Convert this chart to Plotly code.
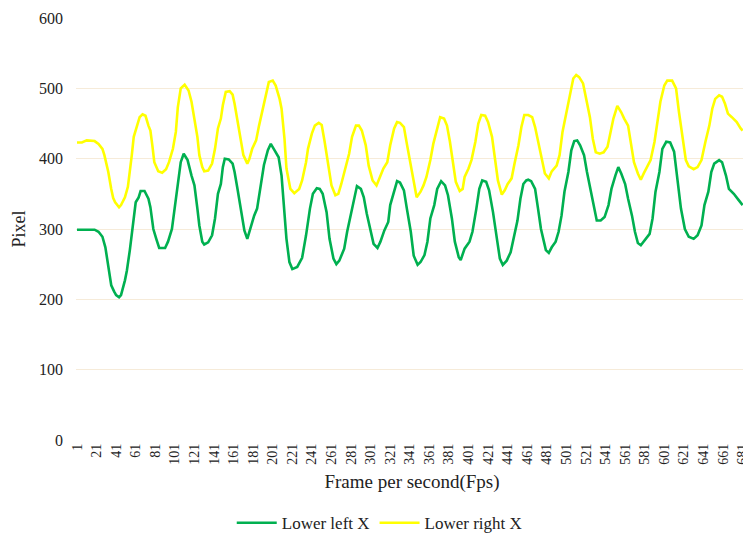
import plotly.graph_objects as go

# ---- data ----
frames_left = [1, 6, 11, 16, 19, 23, 27, 30, 33, 36, 39, 41, 44, 46, 50, 52, 55, 58, 61, 64, 66, 70, 74, 76, 79, 82, 85, 91, 94, 98,
               101, 104, 107, 110, 114, 118, 121, 124, 126, 129, 131, 135, 139, 142, 145, 148, 150, 152, 156, 160, 162, 165, 169, 172, 175, 178,
               182, 185, 188, 192, 196, 199, 202, 207, 210, 213, 215, 218, 221, 226, 231, 235, 239, 242, 246, 249, 252, 256, 259, 263, 266, 269,
               274, 277, 281, 284, 287, 291, 294, 297, 301, 304, 308, 311, 315, 319, 321, 325, 328, 331, 335, 338, 342, 345, 349, 352, 356, 359,
               362, 366, 369, 373, 377, 380, 384, 387, 391, 393, 397, 402, 405, 409, 412, 415, 419, 422, 426, 430, 433, 436, 440, 444, 447, 451,
               454, 457, 460, 462, 465, 469, 472, 475, 478, 480, 483, 486, 490, 493, 496, 499, 503, 506, 509, 512, 515, 519, 522, 526, 529, 532,
               536, 540, 544, 547, 551, 554, 557, 561, 564, 568, 571, 574, 577, 581, 586, 589, 592, 596, 599, 603, 607, 611, 614, 618, 622, 626,
               631, 635, 639, 642, 646, 649, 652, 657, 660, 664, 667, 672, 677, 681]
lower_left_x = [299, 299, 299, 299, 299, 296, 289, 274, 248, 220, 211, 206, 203, 206, 227, 241, 270, 305, 338, 345, 354, 354, 343, 331, 300, 286, 273, 273, 282, 300,
                334, 367, 395, 407, 398, 376, 362, 329, 305, 282, 278, 281, 291, 315, 350, 364, 388, 400, 399, 393, 381, 357, 324, 298, 286, 300,
                319, 329, 357, 391, 412, 421, 414, 402, 376, 329, 286, 253, 243, 246, 259, 291, 329, 350, 358, 357, 350, 324, 286, 258, 250, 255,
                272, 296, 324, 345, 361, 357, 345, 322, 296, 279, 273, 282, 298, 310, 334, 353, 368, 366, 355, 329, 296, 262, 249, 253, 263, 282,
                315, 334, 357, 368, 362, 348, 315, 282, 260, 256, 272, 282, 296, 329, 357, 369, 367, 355, 324, 286, 258, 249, 255, 267, 286, 312,
                343, 364, 369, 370, 368, 357, 329, 300, 282, 270, 266, 274, 282, 296, 319, 353, 381, 412, 425, 426, 419, 405, 381, 353, 329, 312,
                312, 317, 334, 357, 376, 388, 379, 364, 343, 319, 296, 280, 277, 284, 293, 315, 353, 381, 414, 424, 423, 410, 372, 329, 300, 289,
                286, 291, 305, 334, 353, 381, 393, 398, 395, 376, 357, 350, 341, 334]

frames_right = [1, 6, 11, 16, 19, 23, 27, 29, 33, 36, 38, 40, 44, 46, 50, 53, 55, 57, 59, 62, 65, 68, 71, 74, 76, 78, 80, 84, 88, 92, 95, 99,
                102, 104, 107, 111, 115, 118, 121, 124, 126, 129, 131, 135, 139, 142, 145, 148, 150, 153, 157, 160, 162, 165, 168, 171, 175, 177,
                180, 184, 187, 191, 194, 197, 201, 204, 208, 210, 213, 215, 219, 223, 228, 231, 235, 237, 241, 244, 248, 251, 254, 258, 261, 265,
                268, 271, 275, 279, 282, 286, 289, 292, 296, 299, 303, 307, 310, 314, 318, 321, 325, 328, 331, 335, 338, 342, 345, 348, 352, 355,
                358, 362, 365, 369, 372, 376, 379, 382, 385, 388, 392, 395, 397, 401, 404, 408, 411, 414, 418, 421, 425, 428, 431, 435, 438, 441,
                445, 448, 452, 455, 458, 462, 466, 469, 473, 476, 479, 483, 486, 491, 494, 497, 501, 504, 508, 511, 514, 518, 521, 525, 528, 531,
                535, 539, 543, 546, 549, 553, 557, 560, 564, 567, 570, 574, 577, 580, 583, 587, 591, 594, 597, 601, 604, 609, 613, 616, 620, 623,
                626, 631, 635, 639, 643, 647, 650, 653, 657, 660, 663, 666, 670, 675, 679, 681]
lower_right_x = [423, 423, 426, 426, 425, 421, 414, 405, 381, 357, 344, 338, 331, 334, 345, 360, 381, 405, 431, 447, 459, 463, 461, 447, 440, 419, 395, 382, 380, 385, 395, 414,
                 438, 473, 500, 505, 497, 481, 457, 431, 405, 388, 382, 383, 393, 414, 443, 457, 476, 495, 496, 491, 478, 455, 428, 405, 393, 399,
                 414, 426, 447, 471, 492, 509, 511, 504, 485, 471, 428, 386, 357, 351, 357, 369, 395, 414, 436, 447, 451, 448, 424, 390, 362, 348,
                 350, 364, 386, 407, 431, 447, 447, 440, 419, 390, 369, 362, 372, 386, 395, 419, 443, 452, 451, 445, 421, 390, 364, 345, 353, 362,
                 374, 398, 421, 445, 459, 457, 447, 424, 395, 367, 354, 357, 374, 386, 398, 424, 450, 462, 461, 452, 431, 400, 369, 349, 355, 364,
                 372, 393, 419, 445, 462, 462, 459, 445, 419, 395, 379, 372, 382, 390, 405, 438, 466, 490, 514, 519, 516, 507, 485, 459, 428, 409,
                 407, 409, 417, 438, 457, 475, 466, 457, 447, 421, 395, 379, 370, 379, 388, 398, 424, 452, 481, 504, 511, 511, 500, 466, 428, 398,
                 389, 385, 388, 398, 424, 447, 471, 485, 490, 488, 478, 464, 459, 452, 443, 440]

tick_frames = list(range(1, 682, 20))
tick_labels = [str(t) for t in tick_frames]
y_ticks = [0, 100, 200, 300, 400, 500, 600]

FONT = "Liberation Serif, Times New Roman, serif"

fig = go.Figure()
fig.add_trace(go.Scatter(x=frames_left, y=lower_left_x, mode="lines", name="Lower left X",
                         line=dict(color="#00B050", width=2.6)))
fig.add_trace(go.Scatter(x=frames_right, y=lower_right_x, mode="lines", name="Lower right X",
                         line=dict(color="#FFFF00", width=2.6)))

# the page body has an 8px default margin, so the figure is sized/offset to compensate
fig.update_layout(
    width=751, height=527,
    margin=dict(l=68, r=11, t=10, b=95, autoexpand=False),
    paper_bgcolor="white", plot_bgcolor="white",
    font=dict(family=FONT, color="#222222"),
    showlegend=True,
    legend=dict(orientation="h", x=0.452, xanchor="center", y=-0.197, yanchor="middle",
                font=dict(size=17, family=FONT), itemwidth=40, traceorder="normal",
                tracegroupgap=0),
)
fig.update_xaxes(
    range=[0, 686.5], tickmode="array", tickvals=tick_frames, ticktext=tick_labels,
    tickangle=-90, tickfont=dict(size=14, family=FONT), showgrid=False, zeroline=False,
    showline=False, ticks="", automargin=False, ticklabeloverflow="allow",
    title=dict(text="Frame per second(Fps)", font=dict(size=19, family=FONT), standoff=10),
)
fig.update_yaxes(
    range=[0, 600], tickmode="array", tickvals=y_ticks, tickfont=dict(size=16, family=FONT),
    showgrid=True, gridcolor="#F6EBD9", gridwidth=1, zeroline=False, showline=False, ticks="",
    ticklabelstandoff=12, automargin=False,
    title=dict(text="Pixel", font=dict(size=18, family=FONT), standoff=8),
)

fig.write_html("out.html")
